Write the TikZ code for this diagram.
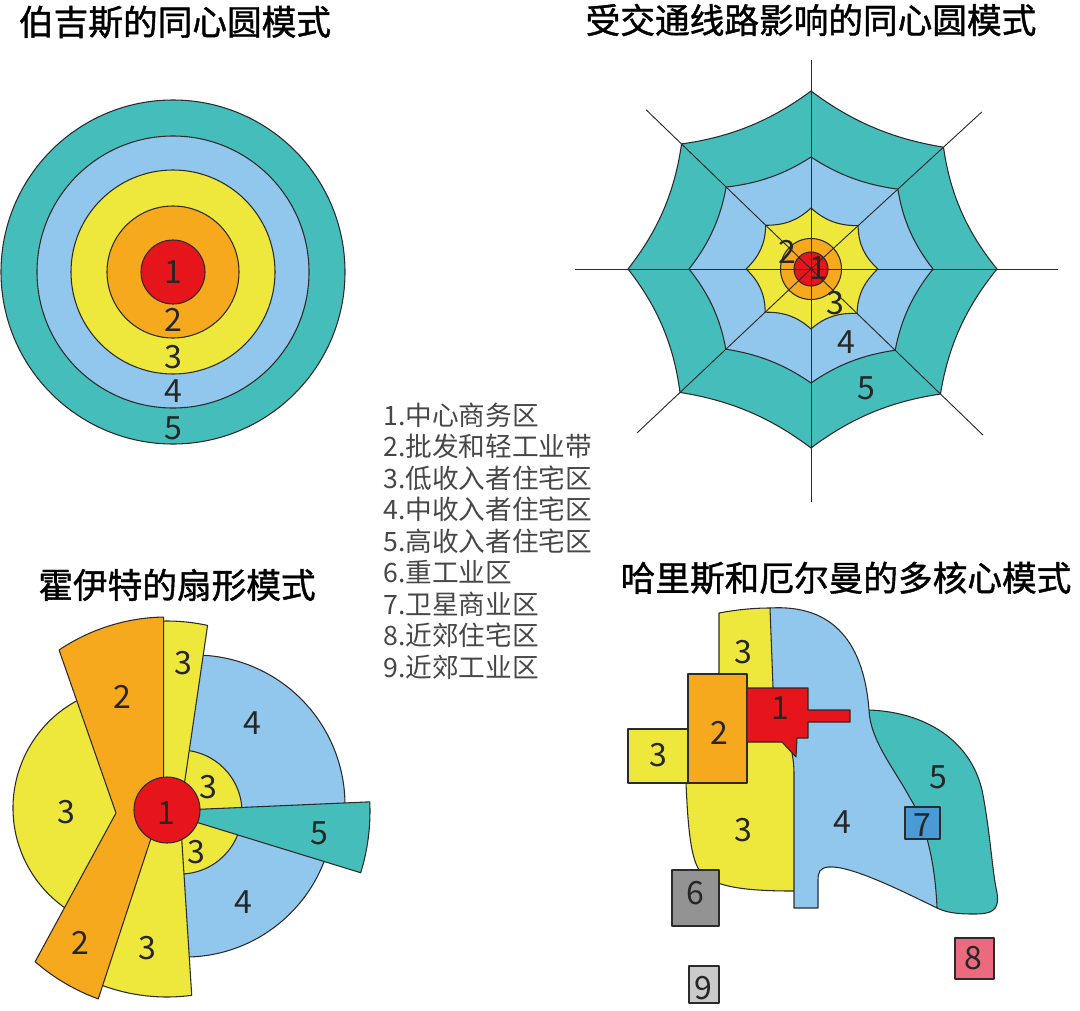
\documentclass[tikz,border=0pt]{standalone}
\usepackage{fontspec}
\setmainfont{Noto Sans CJK SC}
\newfontfamily\titlefont{Noto Sans CJK SC}[FakeBold=1.2]
\usetikzlibrary{calc}
\definecolor{cteal}{HTML}{45BDBB}
\definecolor{cblue}{HTML}{91C7EC}
\definecolor{cyel}{HTML}{EDE83B}
\definecolor{corg}{HTML}{F6A91D}
\definecolor{cred}{HTML}{E6141B}
\definecolor{cgray}{HTML}{939393}
\definecolor{clgray}{HTML}{CACACA}
\definecolor{cpink}{HTML}{EB6A7D}
\definecolor{cmid}{HTML}{4A9BD5}
\definecolor{edgec}{HTML}{2B2B2B}
\begin{document}
\begin{tikzpicture}[x=0.75pt,y=-0.75pt,
  zone/.style={draw=edgec,line width=0.8pt,line join=round},
  zline/.style={draw=edgec,line width=0.8pt},
  spoke/.style={draw=edgec,line width=0.7pt},
  lbl/.style={font=\fontsize{24}{24}\selectfont,text=black!85,inner sep=0pt},
  ttl/.style={font=\fontsize{26}{26}\selectfont\titlefont,inner sep=0pt},
  leg/.style={font=\fontsize{20}{20}\selectfont,text=black!72,anchor=west,inner sep=0pt}]
\useasboundingbox (0,0) rectangle (1080,1010);

% ---------- titles ----------
\node[ttl] (t1) at (175,22) {伯吉斯的同心圆模式};
\node[ttl] (t2) at (811,20) {受交通线路影响的同心圆模式};
\node[ttl] (t3) at (177,585) {霍伊特的扇形模式};
\node[ttl] (t4) at (846,578) {哈里斯和厄尔曼的多核心模式};

% ---------- Burgess ----------
\coordinate (BC) at (173,272);
\draw[zone,fill=cteal] (BC) circle[radius=172];
\draw[zone,fill=cblue] (BC) circle[radius=136];
\draw[zone,fill=cyel] (BC) circle[radius=102];
\draw[zone,fill=corg] (BC) circle[radius=66];
\draw[zone,fill=cred] (BC) circle[radius=32];
\node[lbl] (b1) at (173,272) {1};
\node[lbl] (b2) at (173,320) {2};
\node[lbl] (b3) at (173,357) {3};
\node[lbl] (b4) at (173,391) {4};
\node[lbl] (b5) at (173,428) {5};

% ---------- web ----------
\coordinate (O) at (811,269);
\foreach \i/\a/\s/\t/\b/\y in {0/0/247/186/122/67, 1/44/239/180/117/64, 2/90/233/179/114/60, 3/136.7/239/180/117/63, 4/180/236/183/122/65, 5/224/229/180/118/63, 6/270/209/178/112/61, 7/317.4/232/180/118/64}{
  \coordinate (S\i) at ($(O)+(\a:\s)$);
  \coordinate (T\i) at ($(O)+(\a:\t)$);
  \coordinate (B\i) at ($(O)+(\a:\b)$);
  \coordinate (Y\i) at ($(O)+(\a:\y)$);
}
\foreach \i in {0,...,7}{
  \pgfmathtruncatemacro\j{mod(\i+1,8)}
  \coordinate (TP\i) at ($(T\i)!0.3333!(T\j)$);
  \coordinate (TQ\i) at ($(T\i)!0.6667!(T\j)$);
  \coordinate (TA\i) at ($(O)!0.925!(TP\i)$);
  \coordinate (TB\i) at ($(O)!0.925!(TQ\i)$);
  \coordinate (BP\i) at ($(B\i)!0.3333!(B\j)$);
  \coordinate (BQ\i) at ($(B\i)!0.6667!(B\j)$);
  \coordinate (BA\i) at ($(O)!0.93!(BP\i)$);
  \coordinate (BB\i) at ($(O)!0.93!(BQ\i)$);
  \coordinate (YP\i) at ($(Y\i)!0.3333!(Y\j)$);
  \coordinate (YQ\i) at ($(Y\i)!0.6667!(Y\j)$);
  \coordinate (YA\i) at ($(O)!0.88!(YP\i)$);
  \coordinate (YB\i) at ($(O)!0.88!(YQ\i)$);
}
\draw[zone,fill=cteal] (T0) .. controls (TA0) and (TB0) .. (T1) .. controls (TA1) and (TB1) .. (T2) .. controls (TA2) and (TB2) .. (T3) .. controls (TA3) and (TB3) .. (T4) .. controls (TA4) and (TB4) .. (T5) .. controls (TA5) and (TB5) .. (T6) .. controls (TA6) and (TB6) .. (T7) .. controls (TA7) and (TB7) .. (T0) -- cycle;
\draw[zone,fill=cblue] (B0) .. controls (BA0) and (BB0) .. (B1) .. controls (BA1) and (BB1) .. (B2) .. controls (BA2) and (BB2) .. (B3) .. controls (BA3) and (BB3) .. (B4) .. controls (BA4) and (BB4) .. (B5) .. controls (BA5) and (BB5) .. (B6) .. controls (BA6) and (BB6) .. (B7) .. controls (BA7) and (BB7) .. (B0) -- cycle;
\draw[zone,fill=cyel] (Y0) .. controls (YA0) and (YB0) .. (Y1) .. controls (YA1) and (YB1) .. (Y2) .. controls (YA2) and (YB2) .. (Y3) .. controls (YA3) and (YB3) .. (Y4) .. controls (YA4) and (YB4) .. (Y5) .. controls (YA5) and (YB5) .. (Y6) .. controls (YA6) and (YB6) .. (Y7) .. controls (YA7) and (YB7) .. (Y0) -- cycle;
\draw[zone,fill=corg] (O) circle[radius=30.5];
\draw[zone,fill=cred] (O) circle[radius=17];
\foreach \i in {0,...,7}{\draw[spoke] (O) -- (S\i);}
\node[lbl] (w2) at (787,252) {2};
\node[lbl] (w1) at (818,268) {1};
\node[lbl] (w3) at (835,303) {3};
\node[lbl] (w4) at (846,342) {4};
\node[lbl] (w5) at (866,388) {5};

% ---------- legend ----------
\node[leg] (l1) at (383,415) {1.中心商务区};
\node[leg] (l2) at (383,446.5) {2.批发和轻工业带};
\node[leg] (l3) at (383,478) {3.低收入者住宅区};
\node[leg] (l4) at (383,509.5) {4.中收入者住宅区};
\node[leg] (l5) at (383,541) {5.高收入者住宅区};
\node[leg] (l6) at (383,572.5) {6.重工业区};
\node[leg] (l7) at (383,604) {7.卫星商业区};
\node[leg] (l8) at (383,635.5) {8.近郊住宅区};
\node[leg] (l9) at (383,667) {9.近郊工业区};

% ---------- Hoyt ----------
\coordinate (HC) at (167,810);
\coordinate (HU) at (195,805);
\coordinate (HL) at (185,808);
\coordinate (HS) at (180,812);
\coordinate (HY) at (135,808);
\coordinate (HT) at (160,811);
% upper blue
\fill[cblue] (HU) -- ($(HU)+(-100:150)$) arc[start angle=-100,end angle=2,radius=150] -- cycle;
\draw[zline] ($(HU)+(-100:150)$) arc[start angle=-100,end angle=2,radius=150];
% lower blue
\fill[cblue] (HL) -- ($(HL)+(5:149)$) arc[start angle=5,end angle=95,radius=149] -- cycle;
\draw[zline] ($(HL)+(5:149)$) arc[start angle=5,end angle=95,radius=149];
% small yellow
\draw[zone,fill=cyel] (HS) circle[radius=62];
% teal wedge
\draw[zone,fill=cteal] (HT) -- ($(HT)+(-2.5:210)$) arc[start angle=-2.5,end angle=17.1,radius=210] -- cycle;
% left yellow
\draw[zone,fill=cyel] (125,812) -- ($(HY)+(245:122)$) arc[start angle=245,end angle=122,radius=122] -- cycle;
% top yellow strip
\draw[zone,fill=cyel] (160,800) -- ($(HC)+(267:189)$) arc[start angle=267,end angle=282.4,radius=189] -- (182,800) -- cycle;
% bottom yellow strip
\draw[zone,fill=cyel] (180,812) -- ($(HC)+(82.4:187)$) arc[start angle=82.4,end angle=110.5,radius=187] -- (150,812) -- cycle;
% orange band
\draw[zone,fill=corg] (116,813) -- ($(HC)+(236:193)$) arc[start angle=236,end angle=269,radius=193] -- (163.6,800) -- ($(HC)+(110:201)$) arc[start angle=110,end angle=131,radius=201] -- cycle;
% red
\draw[zone,fill=cred] (HC) circle[radius=33];
\node[lbl] (h2a) at (122,697) {2};
\node[lbl] (h3a) at (183,663) {3};
\node[lbl] (h4a) at (252,723) {4};
\node[lbl] (h3b) at (66,812) {3};
\node[lbl] (h1) at (166,813) {1};
\node[lbl] (h3c) at (208,787) {3};
\node[lbl] (h5) at (319,833) {5};
\node[lbl] (h3d) at (196,852) {3};
\node[lbl] (h4b) at (243,902) {4};
\node[lbl] (h2b) at (80,943) {2};
\node[lbl] (h3e) at (147,948) {3};

% ---------- multiple nuclei ----------
% yellow main
\draw[zone,fill=cyel] (719,613) .. controls (735,610) and (752,608) .. (770,608) -- (776,615) -- (800,700) -- (800,891) -- (793,891) .. controls (745,891) and (708,887) .. (698,868) .. controls (691,855) and (688,830) .. (686,783) -- (686,760) -- (719,674) -- cycle;
% teal
\draw[zone,fill=cteal] (869,710) .. controls (925,712) and (970,740) .. (982,790) .. controls (990,830) and (992,870) .. (997,893) .. controls (1000,912) and (990,914) .. (973,914) .. controls (955,914) and (945,912) .. (937,908) -- (900,830) -- (860,720) -- cycle;
% blue
\draw[zone,fill=cblue] (770,608) .. controls (835,604) and (864,645) .. (869,710) .. controls (870,740) and (895,770) .. (910,798) .. controls (925,822) and (935,860) .. (937,908) .. controls (900,890) and (850,865) .. (828,867) .. controls (820,868) and (818,872) .. (818,880) -- (818,908) -- (794,908) -- (794,775) .. controls (794,765) and (793,755) .. (790,745) -- (773,687) -- cycle;
% left yellow rect
\draw[zone,fill=cyel] (628,729) rectangle (688,783);
% orange rect
\draw[zone,fill=corg] (688,674) rectangle (747,783);
% red CBD
\draw[zone,fill=cred] (747,688) -- (808,688) -- (808,710) -- (850,710) -- (850,722) -- (808,722) -- (808,738) -- (797,738) -- (796,757) -- (782,742) -- (747,742) -- cycle;
% squares
\draw[zone,fill=cmid] (905,807) rectangle (940,839);
\draw[zone,fill=cgray] (672,870) rectangle (719,926);
\draw[zone,fill=clgray] (689,966) rectangle (719,1003);
\draw[zone,fill=cpink] (955,938) rectangle (994,979);
\node[lbl] (m3a) at (743,652) {3};
\node[lbl] (m2) at (719,733) {2};
\node[lbl] (m1) at (780,708) {1};
\node[lbl] (m3b) at (658,755) {3};
\node[lbl] (m3c) at (743,830) {3};
\node[lbl] (m4) at (842,822) {4};
\node[lbl] (m5) at (938,777) {5};
\node[lbl] (m7) at (922,825) {7};
\node[lbl] (m6) at (695,893) {6};
\node[lbl] (m9) at (703,988) {9};
\node[lbl] (m8) at (973,958) {8};
\end{tikzpicture}
\end{document}
